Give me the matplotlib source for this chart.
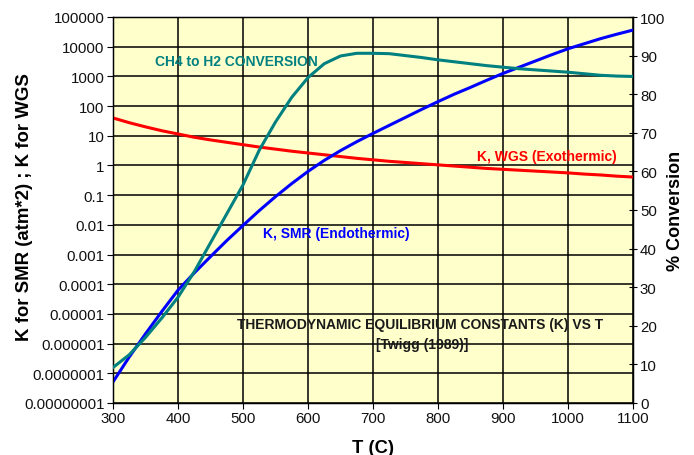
import matplotlib
matplotlib.use("Agg")
import matplotlib.pyplot as plt

plt.rcParams['font.family'] = ['Liberation Sans', 'DejaVu Sans']

T = [300, 325, 350, 375, 400, 425, 450, 475, 500, 525, 550, 575, 600, 625, 650, 675, 700,
     725, 750, 775, 800, 825, 850, 875, 900, 925, 950, 975, 1000, 1025, 1050, 1075, 1100]
log_k_smr = [-7.29, -6.45, -5.67, -4.92, -4.2, -3.62, -3.07, -2.53, -2.02, -1.52, -1.05, -0.61, -0.2,
             0.17, 0.5, 0.8, 1.08, 1.35, 1.62, 1.89, 2.15, 2.4, 2.63, 2.87, 3.1, 3.31, 3.52,
             3.73, 3.93, 4.1, 4.27, 4.42, 4.56]
log_k_wgs = [1.6, 1.44, 1.3, 1.17, 1.06, 0.95, 0.86, 0.78, 0.7, 0.62, 0.55, 0.48, 0.42, 0.36,
             0.3, 0.24, 0.19, 0.14, 0.1, 0.06, 0.02, -0.02, -0.06, -0.1, -0.13, -0.16, -0.19,
             -0.22, -0.25, -0.29, -0.32, -0.36, -0.39]
conversion = [9.2, 12.5, 17.0, 22.0, 27.4, 34.0, 41.5, 49.0, 56.5, 65.5, 72.8, 79.2, 84.3,
              87.9, 89.9, 90.6, 90.6, 90.5, 90.0, 89.5, 88.9, 88.4, 87.9, 87.4, 87.0, 86.6,
              86.3, 86.0, 85.7, 85.3, 84.9, 84.7, 84.6]

y_ticks = [1e-8, 1e-7, 1e-6, 1e-5, 1e-4, 1e-3, 1e-2, 1e-1, 1, 10, 100, 1000, 10000, 100000]
y_labels = ["0.00000001", "0.0000001", "0.000001", "0.00001", "0.0001", "0.001", "0.01",
            "0.1", "1", "10", "100", "1000", "10000", "100000"]
x_ticks = [300, 400, 500, 600, 700, 800, 900, 1000, 1100]
r_ticks = [0, 10, 20, 30, 40, 50, 60, 70, 80, 90, 100]

k_smr = [10 ** v for v in log_k_smr]
k_wgs = [10 ** v for v in log_k_wgs]

fig = plt.figure(figsize=(6.94, 4.56), dpi=100)
ax = fig.add_axes([113 / 694, 1 - 404 / 456, 520 / 694, 386 / 456])
ax.set_facecolor('#FFFFCC')
ax.set_yscale('log')
ax.set_xlim(300, 1100)
ax.set_ylim(1e-8, 1e5)
ax.set_xticks(x_ticks)
ax.set_xticklabels([str(t) for t in x_ticks])
ax.set_yticks(y_ticks)
ax.set_yticklabels(y_labels)
ax.yaxis.set_minor_locator(matplotlib.ticker.NullLocator())
ax.grid(True, which='major', color='black', linewidth=1.1)
ax.set_axisbelow(True)
ax.tick_params(axis='both', labelsize=10.8, direction='out', length=4, color='black',
               labelcolor='#111111', pad=2)
for s in ax.spines.values():
    s.set_color('black')
    s.set_linewidth(1.0)

ax.plot(T, k_wgs, color='#FF0000', linewidth=2.2, zorder=3)
ax.plot(T, k_smr, color='#0000FF', linewidth=2.2, zorder=4)

ax2 = ax.twinx()
ax2.set_ylim(0, 100)
ax2.set_yticks(r_ticks)
ax2.tick_params(axis='y', labelsize=10.8, direction='inout', length=6, color='black',
                labelcolor='#111111', pad=2)
ax2.plot(T, conversion, color='#008080', linewidth=2.2, zorder=3)

ax.set_xlabel('T (C)', fontsize=13.2, fontweight='bold')
ax.xaxis.set_label_coords(0.5, -0.093)
ax.set_ylabel('K for SMR (atm*2) ; K for WGS', fontsize=13.4, fontweight='bold')
ax.yaxis.set_label_coords(-0.153, 0.51)
ax2.set_ylabel('% Conversion', fontsize=13, fontweight='bold')
ax2.yaxis.set_label_coords(1.065, 0.5)

ann = dict(fontsize=10, fontweight='bold', va='center', zorder=5)
ax.text(364.6, 3300, 'CH4 to H2 CONVERSION', color='#008080', ha='left', **ann)
ax.text(1075, 2.1, 'K, WGS (Exothermic)', color='#FF0000', ha='right', **ann)
ax.text(531, 0.0054, 'K, SMR (Endothermic)', color='#0000FF', ha='left', **ann)
ax.text(772, 4.6e-6, 'THERMODYNAMIC EQUILIBRIUM CONSTANTS (K) VS T', color='#1a1a1a',
        ha='center', **ann)
ax.text(775, 9.8e-7, '[Twigg (1989)]', color='#1a1a1a', ha='center', **ann)

fig.savefig('out.png', dpi=100)
